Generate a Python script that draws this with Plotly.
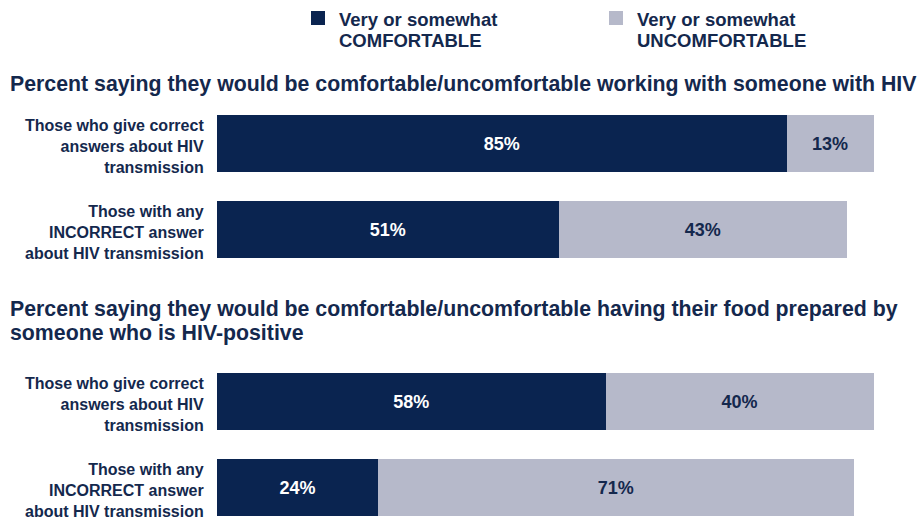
import plotly.graph_objects as go

# Survey results: share comfortable / uncomfortable, by knowledge of HIV transmission
groups = [
    "Those who give correct<br>answers about HIV<br>transmission",
    "Those with any<br>INCORRECT answer<br>about HIV transmission",
    "Those who give correct<br>answers about HIV<br>transmission",
    "Those with any<br>INCORRECT answer<br>about HIV transmission",
]
row_pos = [0, 1, 3, 4]          # rows 0-1: working with; rows 3-4: food prepared by
comfortable = [85, 51, 58, 24]
uncomfortable = [13, 43, 40, 71]

section_titles = [
    ["Percent saying they would be comfortable/uncomfortable working with someone with HIV"],
    ["Percent saying they would be comfortable/uncomfortable having their food prepared by",
     "someone who is HIV-positive"],
]
legend_labels = [["Very or somewhat", "COMFORTABLE"], ["Very or somewhat", "UNCOMFORTABLE"]]

DARK = "#0a2450"
GREY = "#b6b9ca"
INK = "#14284d"
FONT = "Liberation Sans, Arial, sans-serif"

W, H = 919, 519


def px_x(p):
    return p / W


def px_y(p):
    return 1 - p / H


def text_lines(lines, x, y_first, step, size):
    """Left-aligned multi-line text with a fixed line pitch."""
    for i, line in enumerate(lines):
        fig.add_annotation(
            x=px_x(x), xref="paper", y=px_y(y_first + i * step), yref="paper",
            text=line, showarrow=False, xanchor="left", yanchor="middle",
            align="left", font=dict(size=size, color=INK, family=FONT, weight="bold"),
        )


fig = go.Figure()
fig.add_trace(go.Bar(
    y=row_pos, x=comfortable, orientation="h", name="comfortable",
    marker=dict(color=DARK, line=dict(width=0)), width=0.665,
    text=[f"{v}%" for v in comfortable], textposition="inside",
    insidetextanchor="middle", textangle=0,
    textfont=dict(color="white", size=18, family=FONT, weight="bold"),
    hoverinfo="skip",
))
fig.add_trace(go.Bar(
    y=row_pos, x=uncomfortable, orientation="h", name="uncomfortable",
    marker=dict(color=GREY, line=dict(width=0)), width=0.665,
    text=[f"{v}%" for v in uncomfortable], textposition="inside",
    insidetextanchor="middle", textangle=0,
    textfont=dict(color=INK, size=18, family=FONT, weight="bold"),
    hoverinfo="skip",
))

# row labels, right aligned to the left of the bars
for label, y in zip(groups, row_pos):
    fig.add_annotation(
        x=px_x(206), xref="paper", y=y, yref="y", text=label, showarrow=False,
        xanchor="right", yanchor="middle", align="right", yshift=-3,
        font=dict(size=16, color=INK, family=FONT, weight="bold"),
    )

# section headings
text_lines(section_titles[0], 8, 84, 24, 21.3)
text_lines(section_titles[1], 8, 309, 24, 21.3)

# legend: swatches and two-line labels
for sx, color, label in [(311, DARK, legend_labels[0]), (609, GREY, legend_labels[1])]:
    fig.add_shape(
        type="rect", xref="paper", yref="paper",
        x0=px_x(sx), x1=px_x(sx + 14), y0=px_y(25), y1=px_y(11),
        fillcolor=color, line=dict(width=0),
    )
    text_lines(label, sx + 26, 19.5, 21, 18.5)

plot_top = 100
fig.update_layout(
    width=W, height=H, barmode="stack", showlegend=False,
    margin=dict(l=0, r=0, t=0, b=0),
    paper_bgcolor="white", plot_bgcolor="white",
    font=dict(family=FONT, color=INK),
    xaxis=dict(domain=[px_x(217), px_x(887)], range=[0, 100], visible=False,
               fixedrange=True),
    yaxis=dict(domain=[0, px_y(plot_top)],
               range=[-0.506 + (H - plot_top) / 86, -0.506], visible=False,
               fixedrange=True),
)

fig.write_html("out.html")
